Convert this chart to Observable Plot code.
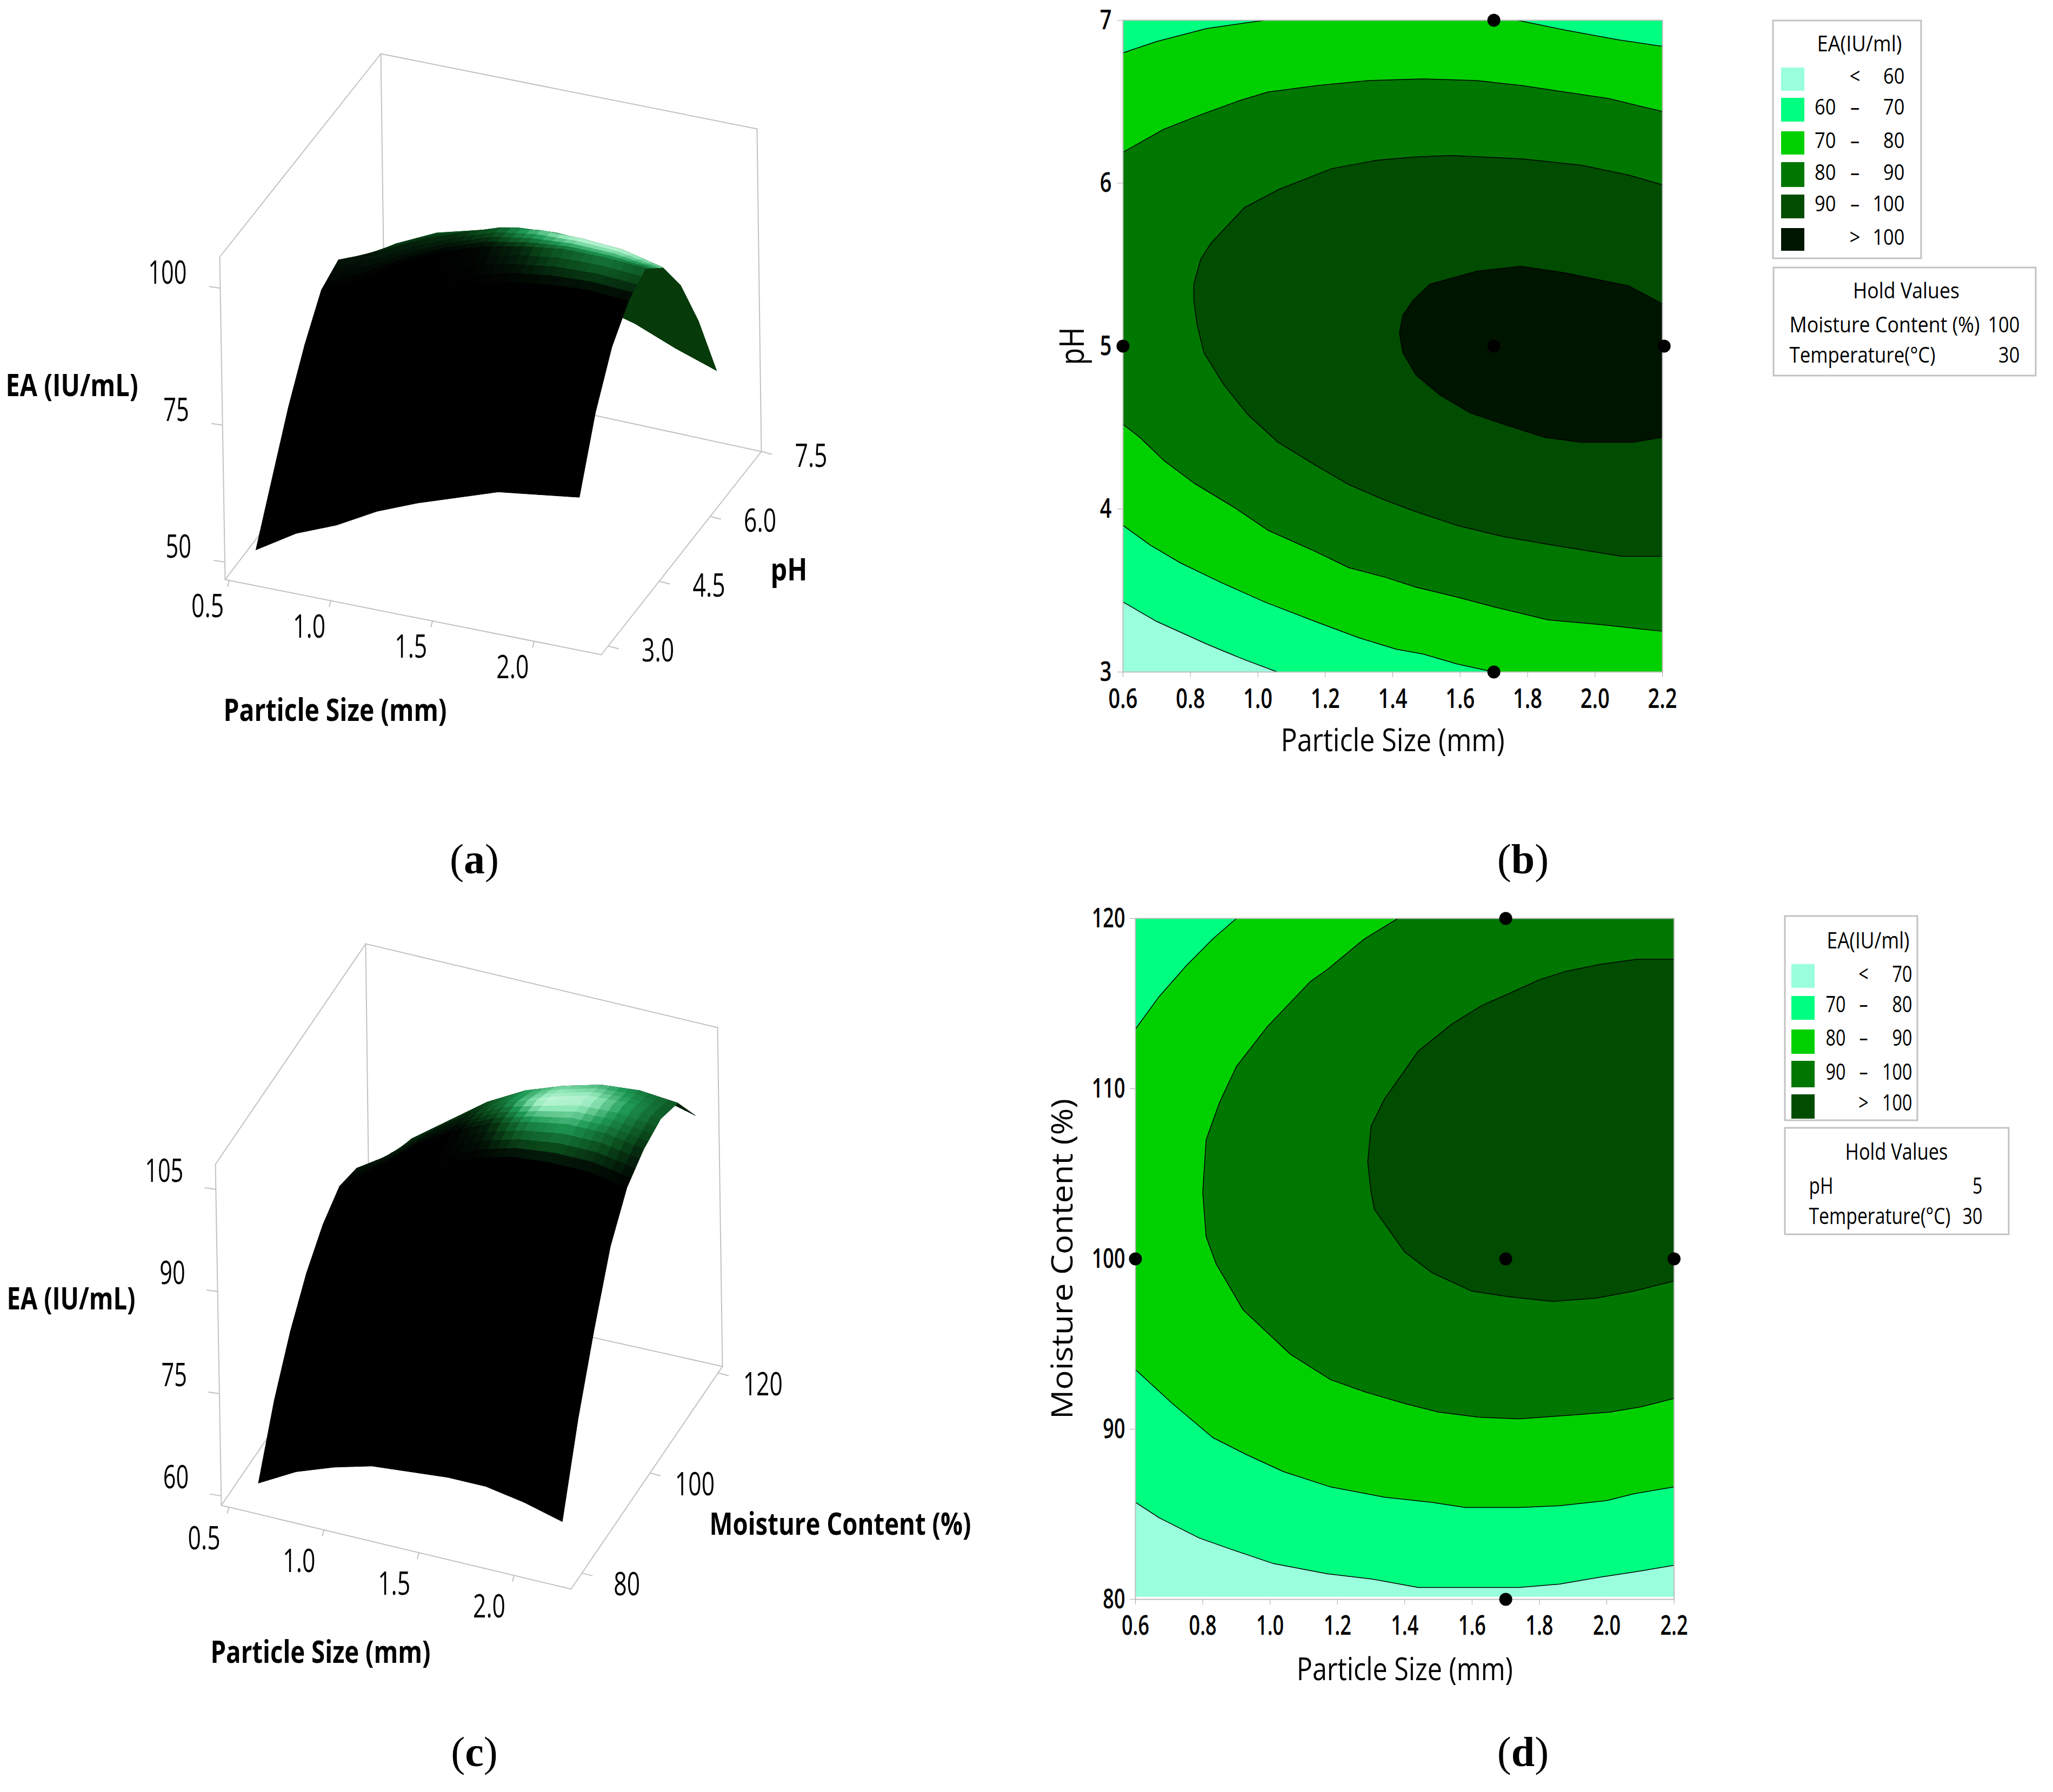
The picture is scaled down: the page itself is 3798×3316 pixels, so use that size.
<!DOCTYPE html>
<html>
<head>
<meta charset="utf-8">
<script src="https://cdn.jsdelivr.net/npm/d3@7"></script>
<script src="https://cdn.jsdelivr.net/npm/@observablehq/plot@0.6"></script>
<style>
html,body{margin:0;padding:0;background:#fff}
#page{position:relative;width:3798px;height:3316px;overflow:hidden;background:#fff}
</style>
</head>
<body>
<div id="page"></div>
<script>
// ---------- DATA ----------
const particleTicks = [0.6,0.8,1.0,1.2,1.4,1.6,1.8,2.0,2.2];
const pHTicks = [3,4,5,6,7];
const moistureTicks = [80,90,100,110,120];
const designPointsB = [[0.6,5],[1.7,5],[2.205,5],[1.7,3],[1.7,7]];
const designPointsD = [[0.6,100],[1.7,100],[2.2,100],[1.7,80],[1.7,120]];

const bandColorsB = ["#99ffdd","#00ff80","#00d000","#007700","#004c00","#001500"];
const bandColorsD = ["#99ffdd","#00ff80","#00d000","#007700","#004c00"];
const legendLabelsB = [["","<","60"],["60","–","70"],["70","–","80"],["80","–","90"],["90","–","100"],["",">","100"]];
const legendLabelsD = [["","<","70"],["70","–","80"],["80","–","90"],["90","–","100"],["",">","100"]];

// panel (b): contour lines of EA, [particle size, pH]
const b60 = [[0.6,3.43],[0.70,3.31],[0.85,3.17],[0.955,3.08],[1.058,3]];
const b70Top = [[0.6,6.80],[0.70,6.87],[0.85,6.95],[1.02,7],[1.77,7],[1.91,6.94],[2.07,6.88],[2.2,6.84]];
const b70Low = [[1.70,3],[1.59,3.05],[1.49,3.11],[1.41,3.14],[1.30,3.21],[1.17,3.31],[1.02,3.43],[0.89,3.55],[0.77,3.67],[0.68,3.78],[0.6,3.90]];
const b80Top = [[0.6,6.19],[0.72,6.33],[0.83,6.42],[0.95,6.51],[1.03,6.56],[1.18,6.60],[1.33,6.63],[1.49,6.64],[1.65,6.63],[1.78,6.60],[1.91,6.56],[2.04,6.52],[2.2,6.44]];
const b80Low = [[2.2,3.25],[2.02,3.29],[1.86,3.32],[1.70,3.40],[1.59,3.46],[1.47,3.52],[1.38,3.58],[1.27,3.64],[1.17,3.74],[1.03,3.87],[0.93,4.01],[0.81,4.16],[0.72,4.30],[0.65,4.44],[0.6,4.52]];
const b90 = [[2.2,5.99],[2.10,6.05],[1.96,6.11],[1.78,6.15],[1.57,6.17],[1.46,6.16],[1.35,6.14],[1.22,6.09],[1.06,5.96],[0.96,5.85],[0.86,5.63],[0.83,5.53],[0.81,5.38],[0.81,5.28],[0.82,5.13],[0.84,4.96],[0.90,4.76],[0.97,4.58],[1.06,4.41],[1.17,4.27],[1.27,4.15],[1.37,4.06],[1.46,3.99],[1.59,3.90],[1.73,3.83],[1.87,3.78],[2.08,3.71],[2.2,3.71]];
const b100 = [[2.2,5.26],[2.10,5.37],[1.91,5.45],[1.78,5.49],[1.65,5.46],[1.51,5.38],[1.46,5.28],[1.43,5.19],[1.42,5.08],[1.43,4.96],[1.47,4.82],[1.54,4.70],[1.63,4.59],[1.73,4.52],[1.85,4.44],[1.96,4.41],[2.11,4.41],[2.2,4.44]];

// panel (d): contour lines of EA, [particle size, moisture]
const d70 = [[0.6,85.7],[0.67,84.8],[0.72,84.3],[0.79,83.6],[0.89,82.9],[1.01,82.1],[1.17,81.5],[1.30,81.2],[1.44,80.7],[1.61,80.7],[1.74,80.7],[1.86,80.9],[1.98,81.3],[2.08,81.6],[2.2,82.0]];
const d80Top = [[0.90,120],[0.83,118.8],[0.75,117.2],[0.67,115.4],[0.6,113.5]];
const d80Low = [[0.6,93.5],[0.71,91.5],[0.83,89.5],[0.93,88.5],[1.04,87.5],[1.18,86.6],[1.34,86.0],[1.48,85.7],[1.58,85.4],[1.74,85.4],[1.86,85.5],[2.0,85.8],[2.08,86.2],[2.2,86.6]];
const d90 = [[1.38,120],[1.28,118.8],[1.17,117.0],[1.12,116.3],[0.99,113.6],[0.90,111.3],[0.85,109.2],[0.81,107.0],[0.80,103.9],[0.81,101.3],[0.84,99.7],[0.92,97.0],[1.06,94.4],[1.18,92.9],[1.28,92.2],[1.40,91.5],[1.50,91.0],[1.62,90.7],[1.74,90.6],[1.88,90.8],[2.01,91.0],[2.10,91.3],[2.2,91.8]];
const d100 = [[2.2,117.6],[2.09,117.6],[1.98,117.3],[1.88,116.9],[1.80,116.4],[1.70,115.5],[1.63,114.9],[1.54,113.8],[1.44,112.2],[1.34,109.4],[1.30,107.8],[1.29,105.7],[1.30,103.9],[1.31,102.9],[1.40,100.4],[1.48,99.2],[1.60,98.1],[1.70,97.8],[1.84,97.5],[1.97,97.7],[2.08,98.1],[2.2,98.7]];

// panels (a) and (c): surfaces
const gridSizes = [0.6,0.8,1.0,1.2,1.4,1.6,1.8,2.0,2.2];
const gridPH = [3,3.5,4,4.5,5,5.5,6,6.5,7];
const gridMoisture = [80,85,90,95,100,105,110,115,120];
const eaA = [
 [51.5,56,59,63,66,68.5,71,72,73],
 [60.5,66,71,75,78.5,81.5,83,84,84.5],
 [69.5,75,82,85.5,89,91,92.5,93,92.5],
 [77,82.5,88.5,91,94,96,97,97.5,97],
 [83,86.5,91,94.5,97,98.5,99.5,99.5,99],
 [84.5,87.5,91,94,96.5,97.5,97.5,97,95.2],
 [80.5,85,88.5,90.5,92.5,93,92.5,90.5,88],
 [74,78,81,82.5,83.5,83.5,82,80,77.5],
 [66,68,70,71,72,72,70,67,64.5]
];
const glowA = [
 [0,0,0,0,0,0,0,0,0],
 [0,0,0,0,0,0,0,0,0],
 [0,0,0,0,0,0,0,0,0],
 [0,0,0,0,0,0,0,0,0],
 [0,0,0,0,0.02,0.12,0.3,0.4,0.3],
 [0.05,0.07,0.1,0.14,0.3,0.7,1,1,0.7],
 [0.16,0.18,0.2,0.25,0.38,0.55,0.6,0.6,0.45],
 [0.16,0.18,0.2,0.25,0.38,0.55,0.6,0.6,0.45],
 [0.16,0.18,0.2,0.25,0.38,0.55,0.6,0.6,0.45]
];
const eaC = [
 [60.5,63.5,65.5,67,67.5,68,68,67,65.5],
 [69,72,75.5,77,78.5,79,79,78.5,77],
 [75.5,80.5,84,86,87.5,88.5,88.5,88,86.5],
 [80.5,85.5,89.5,92,94,95.5,96.5,96.5,95],
 [84,88.5,93,96.5,99,100.5,101,101,100],
 [86,90,94.5,98,100.5,102,103,103,102],
 [85,88.5,93,97,100,101.5,103,103.3,102.8],
 [81,87,91,95,98,100,101.5,102,101.5],
 [80,84,88,91,94,96,97,97.5,96]
];
const glowC = [
 [0,0,0,0,0,0,0,0,0],
 [0,0,0,0,0,0,0,0,0],
 [0,0,0,0,0,0,0,0,0],
 [0,0,0,0,0,0,0,0,0],
 [0,0,0,0,0,0,0,0,0],
 [0,0,0,0,0.1,0.45,0.55,0.35,0.1],
 [0.06,0.06,0.06,0.1,0.4,1,0.95,0.55,0.25],
 [0.12,0.12,0.15,0.2,0.5,0.7,0.6,0.4,0.25],
 [0.2,0.2,0.2,0.25,0.3,0.35,0.3,0.2,0.1]
];
const sizeTicks3D = [0.5,1.0,1.5,2.0];
const phTicks3D = [3.0,4.5,6.0,7.5];
const moistureTicks3D = [80,100,120];
const eaTicksA = [50,75,100];
const eaTicksC = [60,75,90,105];

// ---------- LAYOUT ----------
const W = 3798, H = 3316;
const FONT = "Open Sans";
const page = document.getElementById("page");
const abs = (left, top) => ({position:"absolute",left:left+"px",top:top+"px",background:"transparent",maxWidth:"none",height:"auto",overflow:"visible"});

function makeProjector(box, dom){
  const [s0,s1]=dom.s,[y0,y1]=dom.y,[e0,e1]=dom.e;
  const lerp=(a,b,t)=>[a[0]+(b[0]-a[0])*t,a[1]+(b[1]-a[1])*t];
  return (s,y,e)=>{
    const u=(s-s0)/(s1-s0),v=(y-y0)/(y1-y0),w=(e-e0)/(e1-e0);
    const fl=lerp(lerp(box.FLB,box.FRB,u),lerp(box.BLB,box.BRB,u),v);
    const tp=lerp(lerp(box.FLT,box.FRT,u),lerp(box.BLT,box.BRT,u),v);
    return lerp(fl,tp,w);
  };
}
const glowRamp = d3.scaleLinear().domain([0,0.2,0.5,0.8,1]).range(["#000000","#0a4a1a","#1e9a55","#90e8b8","#c8f8dc"]).clamp(true);

function surfacePolys(rowsY, grid, glow, P, under){
  const out=[]; let id=0; const sub=4;
  const at=(i,j,fi,fj,tbl)=>{
    const i2=Math.min(i+1,gridSizes.length-1), j2=Math.min(j+1,rowsY.length-1);
    const a=tbl[j][i],b=tbl[j][i2],c=tbl[j2][i],d=tbl[j2][i2];
    return (a*(1-fi)+b*fi)*(1-fj)+(c*(1-fi)+d*fi)*fj;
  };
  const pt=(i,j,fi,fj)=>{
    const s=gridSizes[i]+(gridSizes[i+1]-gridSizes[i])*fi;
    const y=rowsY[j]+(rowsY[j+1]-rowsY[j])*fj;
    return P(s,y,at(i,j,fi,fj,grid));
  };
  for(let j=rowsY.length-2;j>=0;j--) for(let m=sub-1;m>=0;m--)
  for(let i=0;i<gridSizes.length-1;i++) for(let n=0;n<sub;n++){
    const f0=n/sub,f1=(n+1)/sub,g0=m/sub,g1=(m+1)/sub;
    const p00=pt(i,j,f0,g0),p10=pt(i,j,f1,g0),p11=pt(i,j,f1,g1),p01=pt(i,j,f0,g1);
    const cross=(p11[0]-p00[0])*(p01[1]-p10[1])-(p11[1]-p00[1])*(p01[0]-p10[0]);
    const shade=at(i,j,(f0+f1)/2,(g0+g1)/2,glow);
    const color=cross>0?under:glowRamp(shade);
    [p00,p10,p11,p01,p00].forEach(p=>out.push({x:p[0],y:p[1],id,color}));
    id++;
  }
  return out;
}
function boxEdges(P,dom,e0,e1){
  const [s0,s1]=dom.s,[y0,y1]=dom.y;
  const c=(s,y,e)=>P(s,y,e);
  const edges=[
   [c(s0,y0,e0),c(s1,y0,e0)],[c(s1,y0,e0),c(s1,y1,e0)],[c(s1,y1,e0),c(s1,y1,e1)],
   [c(s1,y1,e1),c(s0,y1,e1)],[c(s0,y1,e1),c(s0,y0,e1)],[c(s0,y0,e1),c(s0,y0,e0)],
   [c(s0,y1,e1),c(s0,y1,e0)],[c(s0,y1,e0),c(s1,y1,e0)],[c(s0,y1,e0),c(s0,y0,e0)]
  ];
  const out=[]; edges.forEach((ed,id)=>ed.forEach(p=>out.push({x:p[0],y:p[1],id})));
  return out;
}
function ticks3D(values,fn,dx,dy){
  const out=[];
  values.forEach((v,id)=>{const p=fn(v);out.push({x:p[0],y:p[1],id});out.push({x:p[0]+dx,y:p[1]+dy,id});});
  return out;
}
function T(rows,{size,weight=400,anchor="middle",k,w,family=FONT}){
  return Plot.text(rows,{x:"x",y:"y",text:"t",textAnchor:anchor,fontSize:size,fontWeight:weight,fontFamily:family,dy:-0.32*size,fill:"#000",
    className:w?("w-"+w):("k-"+Math.round((k||1)*100))});
}
const GRAY="#c2c2c2";

function panel3D(box,dom,rowsY,grid,glow,under,cfg){
  const P=makeProjector(box,dom);
  const polys=surfacePolys(rowsY,grid,glow,P,under);
  const marks=[];
  marks.push(Plot.line(boxEdges(P,dom,dom.e[0],dom.e[1]),{x:"x",y:"y",z:"id",stroke:GRAY,strokeWidth:2}));
  marks.push(Plot.line(ticks3D(cfg.eaTicks,v=>P(dom.s[0],dom.y[0],v),-20,-3),{x:"x",y:"y",z:"id",stroke:GRAY,strokeWidth:2}));
  marks.push(Plot.line(ticks3D(sizeTicks3D,v=>P(v,dom.y[0],dom.e[0]),-3,11),{x:"x",y:"y",z:"id",stroke:GRAY,strokeWidth:2}));
  marks.push(Plot.line(ticks3D(cfg.yTicks,v=>P(dom.s[1],v,dom.e[0]),19,5),{x:"x",y:"y",z:"id",stroke:GRAY,strokeWidth:2}));
  marks.push(Plot.line(polys,{x:"x",y:"y",z:"id",fill:"color",stroke:"color",strokeWidth:1}));
  marks.push(T(cfg.eaTicks.map(v=>{const p=P(dom.s[0],dom.y[0],v);return {t:String(v),x:p[0]+cfg.eaDx,y:p[1]+cfg.eaDy};}),{size:61,anchor:"end",k:0.68}));
  marks.push(T(sizeTicks3D.map(v=>{const p=P(v,dom.y[0],dom.e[0]);return {t:v.toFixed(1),x:p[0]+cfg.sDx,y:p[1]+cfg.sDy};}),{size:61,k:0.70}));
  marks.push(T(cfg.yTicks.map(v=>{const p=P(dom.s[1],v,dom.e[0]);return {t:cfg.yFmt(v),x:p[0]+cfg.yDx,y:p[1]+cfg.yDy};}),{size:61,k:0.70}));
  return marks;
}

// Panel (a)
const domA={s:[0.48,2.33],y:[2.8,7.5],e:[46.8,105.7]};
const boxA={FLB:[416,1072],FRB:[1112,1211],BRB:[1408,835],BLB:[712,684],FLT:[406,475],FRT:[1102,614],BLT:[704,99],BRT:[1400,238]};
const marksA=panel3D(boxA,domA,gridPH,eaA,glowA,"#063a0a",{eaTicks:eaTicksA,yTicks:phTicks3D,yFmt:v=>v.toFixed(1),eaDx:-62,eaDy:-8,sDx:-40,sDy:68,yDx:92,yDy:28});
// Panel (c)
const domC={s:[0.46,2.3],y:[76.8,121.3],e:[58.6,108.7]};
const boxC={FLB:[409,2785],FRB:[1056,2940],BRB:[1336,2528],BLB:[684,2382],FLT:[398,2154],FRT:[1047,2309],BLT:[676,1746],BRT:[1327,1901]};
const marksC=panel3D(boxC,domC,gridMoisture,eaC,glowC,"#02200a",{eaTicks:eaTicksC,yTicks:moistureTicks3D,yFmt:String,eaDx:-60,eaDy:-14,sDx:-46,sDy:78,yDx:83,yDy:41});

// Legends
function legendMarks(L,labels,colors){
  const m=[];
  m.push(Plot.rect([L.box],{x1:d=>d[0],y1:d=>d[1],x2:d=>d[2],y2:d=>d[3],fill:"#fff",stroke:GRAY,strokeWidth:3}));
  m.push(Plot.rect([L.hold],{x1:d=>d[0],y1:d=>d[1],x2:d=>d[2],y2:d=>d[3],fill:"#fff",stroke:GRAY,strokeWidth:3}));
  m.push(Plot.rect(labels.map((l,i)=>({c:colors[i],y1:L.swY[i][0],y2:L.swY[i][1]})),{x1:()=>L.swX[0],x2:()=>L.swX[1],y1:"y1",y2:"y2",fill:"c"}));
  const o={size:L.size,k:L.k};
  m.push(T([{t:"EA(IU/ml)",x:L.titleX,y:L.titleY}],{size:L.size,anchor:"start",w:L.titleW}));
  m.push(T(labels.map((l,i)=>({t:l[0],x:L.leftX,y:L.base[i]})).filter(d=>d.t),{...o,anchor:"end"}));
  m.push(T(labels.map((l,i)=>({t:l[1],x:L.midX,y:L.base[i]})),{...o}));
  m.push(T(labels.map((l,i)=>({t:l[2],x:L.rightX,y:L.base[i]})),{...o,anchor:"end"}));
  m.push(T([{t:"Hold Values",x:L.holdX,y:L.holdY}],{size:L.size,w:L.holdW}));
  L.holdRows.forEach(r=>{
    m.push(T([{t:r[0],x:L.holdL,y:r[2]}],{size:L.size,anchor:"start",w:r[3]}));
    m.push(T([{t:r[1],x:L.holdR,y:r[2]}],{...o,anchor:"end"}));
  });
  return m;
}
const legendB={box:[3280,38,3554,478],hold:[3281,495,3766,695],swX:[3295,3338],
  swY:[[125,168],[181,225],[243,286],[300,346],[360,404],[422,464]],base:[154,211,273,332,390,452],
  titleX:3361,titleY:94,titleW:157,leftX:3396,midX:3431,rightX:3523,size:41,k:0.84,
  holdX:3526,holdY:551,holdW:197,holdL:3310,holdR:3736,holdRows:[["Moisture Content (%)","100",614,352],["Temperature(°C)","30",670,270]]};
const legendD={box:[3302,1695,3547,2073],hold:[3302,2087,3716,2284],swX:[3314,3357],
  swY:[[1784,1828],[1843,1887],[1905,1950],[1963,2012],[2025,2070]],base:[1816,1872,1934,1997,2054],
  titleX:3379,titleY:1754,titleW:153,leftX:3414,midX:3447,rightX:3537,size:42,k:0.77,
  holdX:3508,holdY:2145,holdW:190,holdL:3346,holdR:3667,holdRows:[["pH","5",2208,45],["Temperature(°C)","30",2264,262]]};

const overlay=Plot.plot({
  width:W,height:H,margin:0,
  x:{domain:[0,W],range:[0,W],axis:null},
  y:{domain:[0,H],range:[0,H],axis:null},
  color:{type:"identity"},
  style:abs(0,0),
  marks:[
    ...marksA,
    ...marksC,
    T([{t:"EA (IU/mL)",x:10,y:732}],{size:58,weight:700,anchor:"start",w:245}),
    T([{t:"Particle Size (mm)",x:413,y:1333}],{size:58,weight:700,anchor:"start",w:413}),
    T([{t:"pH",x:1425,y:1073}],{size:58,weight:700,anchor:"start",w:68}),
    T([{t:"EA (IU/mL)",x:12,y:2422}],{size:58,weight:700,anchor:"start",w:238}),
    T([{t:"Particle Size (mm)",x:389,y:3076}],{size:58,weight:700,anchor:"start",w:407}),
    T([{t:"Moisture Content (%)",x:1312,y:2839}],{size:58,weight:700,anchor:"start",w:484}),
    ...legendMarks(legendB,legendLabelsB,bandColorsB),
    ...legendMarks(legendD,legendLabelsD,bandColorsD),
    T([{t:"(a)",x:877,y:1615},{t:"(c)",x:877,y:3267},{t:"(b)",x:2817,y:1615},{t:"(d)",x:2817,y:3267}],{size:78,family:"Liberation Serif"})
  ]
});
page.appendChild(overlay);

// Contour panels
function contourPlot({left,top,width,height,ml,mr,mt,mb,xd,yd,yticks,bands,lines,dots,xTitle,yTitle,xw,yw,xdy,ydx,padX,padY,xSize,ySize}){
  return Plot.plot({
    width,height,marginLeft:ml,marginRight:mr,marginTop:mt,marginBottom:mb,
    x:{domain:xd,axis:null},y:{domain:yd,axis:null},
    style:abs(left,top),
    marks:[
      ...bands.map(b=>Plot.line(b.pts,{fill:b.color,stroke:"none"})),
      ...lines.map(l=>Plot.line(l,{stroke:"#000",strokeWidth:1.5})),
      Plot.frame({stroke:"#bdbdbd",strokeWidth:2}),
      Plot.axisX({ticks:particleTicks,tickFormat:d3.format(".1f"),tickSize:10,tickPadding:padX,fontSize:50,fontWeight:600,fontFamily:FONT,stroke:"#a8a8a8",fill:"#000",label:null}),
      Plot.axisY({ticks:yticks,tickFormat:String,tickSize:10,tickPadding:padY,fontSize:50,fontWeight:600,fontFamily:FONT,stroke:"#a8a8a8",fill:"#000",label:null}),
      Plot.dot(dots,{r:12,fill:"#000",stroke:"none"}),
      Plot.text([xTitle],{frameAnchor:"bottom",textAnchor:"middle",dy:xdy,fontSize:xSize,fontWeight:500,fontFamily:FONT,fill:"#000",className:"w-"+xw}),
      Plot.text([yTitle],{frameAnchor:"left",textAnchor:"middle",dx:ydx,rotate:-90,fontSize:ySize,fontWeight:500,fontFamily:FONT,fill:"#000",className:"w-"+yw})
    ]
  });
}
const panelB=contourPlot({left:1900,top:0,width:1200,height:1450,ml:177,mr:25,mt:37,mb:207,xd:[0.6,2.2],yd:[3,7],yticks:pHTicks,
  bands:[
    {color:bandColorsB[1],pts:[[0.6,3],[2.2,3],[2.2,7],[0.6,7]]},
    {color:bandColorsB[0],pts:[...b60,[0.6,3]]},
    {color:bandColorsB[2],pts:[...b70Top,[2.2,3],...b70Low]},
    {color:bandColorsB[3],pts:[...b80Top,...b80Low]},
    {color:bandColorsB[4],pts:b90},
    {color:bandColorsB[5],pts:b100}
  ],
  lines:[b60,b70Top.slice(0,4),b70Top.slice(4),b70Low,b80Top,b80Low,b90,b100],
  dots:designPointsB,xTitle:"Particle Size (mm)",yTitle:"pH",xw:414,yw:70,xdy:146,ydx:-92,padX:21,padY:11,xSize:58,ySize:62});
page.appendChild(panelB);
const panelD=contourPlot({left:1900,top:1650,width:1300,height:1500,ml:200,mr:103.5,mt:49,mb:191,xd:[0.6,2.2],yd:[80,120],yticks:moistureTicks,
  bands:[
    {color:bandColorsD[0],pts:[[0.6,80.15],[2.2,80.15],[2.2,120],[0.6,120]]},
    {color:bandColorsD[1],pts:[...d70,[2.2,120],[0.6,120]]},
    {color:bandColorsD[2],pts:[...d80Low,[2.2,120],...d80Top]},
    {color:bandColorsD[3],pts:[...d90,[2.2,120]]},
    {color:bandColorsD[4],pts:d100}
  ],
  lines:[d70,d80Top,d80Low,d90,d100],
  dots:designPointsD,xTitle:"Particle Size (mm)",yTitle:"Moisture Content (%)",xw:400,yw:593,xdy:149,ydx:-134,padX:20,padY:9,xSize:58,ySize:54});
page.appendChild(panelD);

// Fit text to the narrow look of the reference
function fit(svg,defaultK){
  svg.querySelectorAll("text").forEach(t=>{
    const g=t.closest("g");
    const m=((g&&g.getAttribute("class"))||"").match(/\b([kw])-(\d+)/);
    const len=t.getComputedTextLength();
    let target=len*defaultK;
    if(m) target=m[1]==="w"?+m[2]:len*(+m[2])/100;
    t.setAttribute("textLength",target);
    t.setAttribute("lengthAdjust","spacingAndGlyphs");
    const s=t.textContent.match(/^\((.)\)$/);
    if(s){t.textContent="";
      t.append("(");
      const b=document.createElementNS("http://www.w3.org/2000/svg","tspan");
      b.setAttribute("font-weight","700");b.textContent=s[1];t.append(b);t.append(")");
      t.removeAttribute("textLength");t.removeAttribute("lengthAdjust");}
  });
}
fit(overlay,1);fit(panelB,0.76);fit(panelD,0.72);
</script>
</body>
</html>
